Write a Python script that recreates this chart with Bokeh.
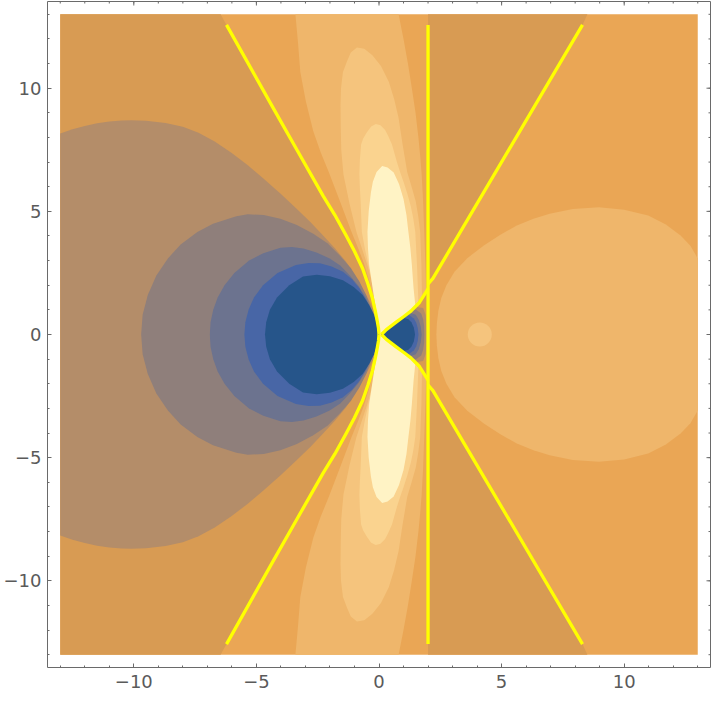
import math
from bokeh.plotting import figure
from bokeh.models import Range1d, FixedTicker, LinearAxis, ColumnDataSource
from bokeh.embed import file_html
from bokeh.resources import INLINE

# ---------------- data ----------------
X_MIN, X_MAX, Y_MIN, Y_MAX = -13.0, 13.0, -13.0, 13.0
PAD = 0.52
TICKS = [-10, -5, 0, 5, 10]
MINOR_TICKS = list(range(-13, 14))
TICK_LABELS = {-10: "\u221210", -5: "\u22125", 0: "0", 5: "5", 10: "10"}

# contour fill colours, low -> high
C_DARK = "#26558a"
C_BLUE = "#4866a6"
C_SLATE = "#6c738f"
C_MAUVE = "#8f7f7b"
C_TAN = "#b48d69"
C_BROWN = "#d89b53"
C_ORANGE = "#eaa655"
C_LOR = "#efb66b"
C_L2 = "#f5c47d"
C_L3 = "#fad38f"
C_PALE = "#fff3c5"
C_CUT = "#ffff00"
C_FRAME = "#6a6a6a"

# yellow discontinuity curves (upper half; the plot is mirror symmetric in y)
cut_left_x = [0.0, -0.02, -0.07, -0.15, -0.27, -0.45, -0.67, -1.0, -1.34, -1.8, -2.28, -3.35, -4.29, -6.22]
cut_left_y = [0.0, 0.25, 0.54, 0.95, 1.48, 2.05, 2.68, 3.38, 4.02, 4.85, 5.63, 7.5, 9.15, 12.57]
cut_left_edge = (-6.46, 13.0)
cut_inner_x = [0.1, 0.3, 0.5, 0.7, 1.0, 1.3, 1.65, 2.0]
cut_inner_y = [0.0, 0.2, 0.35, 0.5, 0.72, 0.95, 1.3, 1.85]
cut_vert_x = [2.0, 2.0]
cut_vert_y = [-12.57, 12.57]
cut_diag_x = [2.0, 2.2, 8.30]
cut_diag_y = [2.05, 2.28, 12.57]
cut_diag_edge = (8.5, 13.0)

# left nested regions (upper boundary from x-axis / left edge to origin)
tan_x = [-13.0, -12.5, -12.0, -11.5, -11.0, -10.5, -10.1, -9.5, -8.7, -8.0, -7.36, -6.7, -6.02,
         -5.35, -4.69, -4.0, -3.35, -2.8, -2.28, -1.8, -1.34, -1.0, -0.67, -0.38, -0.13, -0.03, 0.0]
tan_y = [8.16, 8.33, 8.47, 8.58, 8.65, 8.69, 8.7, 8.68, 8.59, 8.43, 8.19, 7.84, 7.38,
         6.87, 6.31, 5.7, 5.1, 4.57, 4.02, 3.5, 2.95, 2.43, 1.88, 1.33, 0.8, 0.4, 0.0]
mauve_x = [-9.7, -9.64, -9.43, -9.08, -8.61, -8.09, -7.41, -6.77, -5.82, -5.35, -4.7, -4.02, -3.35,
           -2.68, -2.1, -1.61, -1.15, -0.8, -0.5, -0.27, -0.1, 0.0]
mauve_y = [0.0, 0.8, 1.6, 2.4, 3.09, 3.65, 4.16, 4.5, 4.8, 4.88, 4.85, 4.7, 4.45,
           4.09, 3.7, 3.22, 2.7, 2.15, 1.55, 0.94, 0.45, 0.0]
slate_x = [-6.9, -6.87, -6.76, -6.58, -6.3, -5.9, -5.3, -4.72, -4.02, -3.55, -3.08, -2.55, -2.01,
           -1.58, -1.2, -0.83, -0.53, -0.3, -0.13, 0.0]
slate_y = [0.0, 0.5, 1.0, 1.5, 2.0, 2.5, 3.0, 3.3, 3.52, 3.55, 3.49, 3.33, 3.09,
           2.8, 2.41, 1.97, 1.48, 0.95, 0.45, 0.0]
blue_x = [-5.49, -5.45, -5.32, -5.1, -4.73, -4.14, -3.39, -2.88, -2.41, -1.93, -1.47, -1.1, -0.8,
          -0.53, -0.33, -0.15, 0.0]
blue_y = [0.0, 0.5, 1.0, 1.5, 2.0, 2.5, 2.82, 2.9, 2.89, 2.76, 2.55, 2.24, 1.88,
          1.42, 0.94, 0.45, 0.0]
dark_x = [-4.65, -4.6, -4.45, -4.16, -3.66, -3.1, -2.54, -2.0, -1.47, -1.03, -0.67, -0.4, -0.2, -0.07, 0.0]
dark_y = [0.0, 0.5, 1.0, 1.5, 2.0, 2.35, 2.43, 2.37, 2.2, 1.93, 1.6, 1.2, 0.8, 0.4, 0.0]

# central lobes: left side (top -> axis) and right side (axis -> top)
lor_lx = [-3.41, -3.3, -3.21, -2.98, -2.68, -2.38, -2.05, -1.8, -1.55, -1.12, -0.85, -0.62, -0.42, -0.25, -0.05, 0.02]
lor_ly = [13.0, 11.8, 10.66, 9.45, 8.25, 7.4, 6.6, 5.95, 5.3, 4.16, 3.5, 2.9, 2.25, 1.6, 0.6, 0.0]
lor_rx = [1.92, 1.92, 1.9, 1.87, 1.84, 1.8, 1.74, 1.68, 1.61, 1.49, 1.34, 1.18, 1.0, 0.8]
lor_ry = [0.0, 1.8, 2.6, 3.5, 4.3, 5.4, 6.51, 7.25, 7.98, 9.0, 10.0, 11.0, 12.0, 13.0]
l2_lx = [-0.9, -1.15, -1.3, -1.47, -1.55, -1.57, -1.56, -1.54, -1.45, -1.2, -0.92, -0.7, -0.5, -0.32, -0.18, -0.02, 0.03]
l2_ly = [11.65, 11.45, 11.1, 10.66, 10.0, 9.32, 8.4, 7.5, 6.5, 5.3, 4.16, 3.5, 2.9, 2.25, 1.6, 0.6, 0.0]
l2_rx = [1.75, 1.75, 1.73, 1.68, 1.6, 1.5, 1.33, 1.15, 1.05, 0.95, 0.8, 0.62, 0.4, 0.08, -0.27, -0.6]
l2_ry = [0.0, 1.7, 2.8, 4.16, 4.8, 5.4, 6.0, 6.6, 7.2, 7.8, 8.79, 9.55, 10.26, 10.9, 11.34, 11.6]
l3_lx = [-0.13, -0.32, -0.5, -0.65, -0.73, -0.78, -0.8, -0.78, -0.75, -0.7, -0.58, -0.45, -0.28, -0.12, 0.0, 0.04]
l3_ly = [8.55, 8.45, 8.2, 7.95, 7.71, 7.1, 6.51, 5.95, 5.4, 4.16, 3.5, 2.9, 2.25, 1.6, 0.6, 0.0]
l3_rx = [1.6, 1.6, 1.55, 1.48, 1.4, 1.3, 1.16, 1.0, 0.86, 0.73, 0.53, 0.38, 0.25, 0.06]
l3_ry = [0.0, 1.5, 2.82, 4.16, 4.7, 5.2, 5.7, 6.2, 6.6, 7.0, 7.71, 8.05, 8.3, 8.5]
pale_x = [0.05, 0.0, -0.1, -0.2, -0.3, -0.4, -0.45, -0.47, -0.42, -0.33, -0.25, -0.1, 0.13, 0.35,
          0.6, 0.82, 1.0, 1.12, 1.2, 1.28, 1.34, 1.41, 1.48, 1.3, 1.0, 0.7, 0.5, 0.3, 0.05]
pale_y = [0.0, 0.27, 0.9, 1.48, 2.15, 2.82, 3.5, 4.16, 5.0, 5.77, 6.2, 6.6, 6.84, 6.78,
          6.58, 6.1, 5.5, 4.85, 4.16, 3.5, 2.82, 1.88, 1.2, 0.95, 0.72, 0.5, 0.35, 0.2, 0.0]

# cusp right of the origin: rings, each = part of inner cut + a cap to the axis
ring_tan_x = [0.1, 0.3, 0.5, 0.7, 1.0, 1.3, 1.55, 1.8, 1.9, 1.93, 1.95]
ring_tan_y = [0.0, 0.2, 0.35, 0.5, 0.72, 0.95, 1.12, 1.08, 0.8, 0.45, 0.0]
ring_mauve_x = [0.1, 0.3, 0.5, 0.7, 1.0, 1.3, 1.5, 1.72, 1.8, 1.84, 1.85]
ring_mauve_y = [0.0, 0.2, 0.35, 0.5, 0.72, 0.95, 1.02, 0.85, 0.62, 0.35, 0.0]
ring_slate_x = [0.1, 0.3, 0.5, 0.7, 1.0, 1.25, 1.5, 1.62, 1.7, 1.74]
ring_slate_y = [0.0, 0.2, 0.35, 0.5, 0.72, 0.88, 0.8, 0.6, 0.32, 0.0]
ring_blue_x = [0.1, 0.3, 0.5, 0.7, 1.0, 1.2, 1.42, 1.52, 1.58, 1.61]
ring_blue_y = [0.0, 0.2, 0.35, 0.5, 0.72, 0.8, 0.65, 0.48, 0.26, 0.0]
ring_dark_x = [0.1, 0.3, 0.5, 0.7, 1.0, 1.2, 1.32, 1.42, 1.47]
ring_dark_y = [0.0, 0.2, 0.35, 0.5, 0.68, 0.62, 0.5, 0.28, 0.0]

# right side
blob_x = [2.34, 2.36, 2.42, 2.54, 2.75, 3.08, 3.6, 4.29, 4.95, 5.62, 6.3, 6.96, 7.9, 8.97,
          10.0, 10.98, 11.7, 12.3, 12.7, 13.0]
blob_y = [0.0, 0.45, 0.95, 1.48, 2.0, 2.55, 3.1, 3.62, 4.05, 4.43, 4.7, 4.9, 5.1, 5.17,
          5.07, 4.83, 4.47, 4.02, 3.6, 3.09]
spot_x = [4.11]
spot_y = [0.0]
spot_r = 0.49


# ---------------- helpers ----------------
def neg(v):
    return [-a for a in v]


def sym(xs, ys):
    """upper boundary closed through its mirror image"""
    return list(xs) + list(xs[::-1]), list(ys) + neg(ys[::-1])


def lobe(lx, ly, rx, ry):
    px = list(lx) + list(lx[::-1]) + list(rx[::-1]) + list(rx)
    py = list(ly) + neg(ly[::-1]) + neg(ry[::-1]) + list(ry)
    return px, py


XS, YS, CS = [], [], []


def add(px, py, c):
    XS.append(px)
    YS.append(py)
    CS.append(c)


# background level
add([X_MIN, X_MAX, X_MAX, X_MIN], [Y_MIN, Y_MIN, Y_MAX, Y_MAX], C_ORANGE)

# left of the left cut
lx = [X_MIN, cut_left_edge[0]] + cut_left_x[::-1]
ly = [Y_MAX, cut_left_edge[1]] + cut_left_y[::-1]
add(*sym(lx, ly), C_BROWN)
add(*sym(tan_x, tan_y), C_TAN)
add(*sym(mauve_x, mauve_y), C_MAUVE)
add(*sym(slate_x, slate_y), C_SLATE)
add(*sym(blue_x, blue_y), C_BLUE)
add(*sym(dark_x, dark_y), C_DARK)

# central lobes
add(*lobe(lor_lx, lor_ly, lor_rx, lor_ry), C_LOR)
add(*lobe(l2_lx, l2_ly, l2_rx, l2_ry), C_L2)
add(*lobe(l3_lx, l3_ly, l3_rx, l3_ry), C_L3)
add(pale_x, pale_y, C_PALE)
add(pale_x, neg(pale_y), C_PALE)

# cusp right of the origin
add(*sym(cut_inner_x, cut_inner_y), C_BROWN)
add(*sym(ring_tan_x, ring_tan_y), C_TAN)
add(*sym(ring_mauve_x, ring_mauve_y), C_MAUVE)
add(*sym(ring_slate_x, ring_slate_y), C_SLATE)
add(*sym(ring_blue_x, ring_blue_y), C_BLUE)
add(*sym(ring_dark_x, ring_dark_y), C_DARK)

# right side
tri_x = [cut_diag_x[0], cut_diag_x[0], cut_diag_edge[0]] + cut_diag_x[::-1][:-1]
tri_y = [cut_diag_y[0], Y_MAX, cut_diag_edge[1]] + cut_diag_y[::-1][:-1]
add(tri_x, tri_y, C_BROWN)
add(tri_x, neg(tri_y), C_BROWN)
add(list(blob_x[::-1]) + list(blob_x), neg(blob_y[::-1]) + list(blob_y), C_LOR)

# ---------------- figure ----------------
p = figure(width=712, height=697,
           x_range=Range1d(X_MIN - PAD, X_MAX + PAD),
           y_range=Range1d(Y_MIN - PAD, Y_MAX + PAD),
           output_backend="svg", toolbar_location=None,
           x_axis_location=None, y_axis_location=None,
           min_border_left=44, min_border_right=2,
           min_border_top=1, min_border_bottom=30)
p.xgrid.visible = False
p.ygrid.visible = False
p.outline_line_color = C_FRAME
p.outline_line_width = 1
p.background_fill_color = "white"
p.border_fill_color = "white"

src = ColumnDataSource(dict(xs=XS, ys=YS, c=CS))
p.patches("xs", "ys", source=src, fill_color="c", line_color=None)
p.circle(x=spot_x, y=spot_y, radius=spot_r, fill_color=C_L2, line_color=None)

cut_xs = [cut_left_x, cut_left_x, cut_inner_x, cut_inner_x, cut_vert_x, cut_diag_x, cut_diag_x]
cut_ys = [cut_left_y, neg(cut_left_y), cut_inner_y, neg(cut_inner_y), cut_vert_y,
          cut_diag_y, neg(cut_diag_y)]
p.multi_line(xs=cut_xs, ys=cut_ys, line_color=C_CUT, line_width=3.3, line_join="round")

# labelled frame axes (bottom, left)
for loc in ["below", "left"]:
    ax = LinearAxis(ticker=FixedTicker(ticks=TICKS, minor_ticks=MINOR_TICKS))
    ax.axis_line_color = None
    ax.major_tick_in = 4
    ax.major_tick_out = 0
    ax.minor_tick_in = 2
    ax.minor_tick_out = 0
    ax.major_tick_line_color = C_FRAME
    ax.minor_tick_line_color = C_FRAME
    ax.major_label_overrides = TICK_LABELS
    ax.major_label_text_font = "DejaVu Sans"
    ax.major_label_text_font_size = "18px"
    ax.major_label_text_color = "#5a5a5a"
    ax.major_label_standoff = 6 if loc == "left" else 7
    p.add_layout(ax, loc)

# unlabelled ticks on the top and right frame edges (half of each dash is clipped by the frame)
top = Y_MAX + PAD
right = X_MAX + PAD
p.scatter(x=TICKS, y=[top] * len(TICKS), marker="dash", size=8, angle=math.pi / 2,
          line_color=C_FRAME, line_width=1)
p.scatter(x=MINOR_TICKS, y=[top] * len(MINOR_TICKS), marker="dash", size=4, angle=math.pi / 2,
          line_color=C_FRAME, line_width=1)
p.scatter(x=[right] * len(TICKS), y=TICKS, marker="dash", size=8,
          line_color=C_FRAME, line_width=1)
p.scatter(x=[right] * len(MINOR_TICKS), y=MINOR_TICKS, marker="dash", size=4,
          line_color=C_FRAME, line_width=1)

open("out.html", "w").write(file_html(p, INLINE))
